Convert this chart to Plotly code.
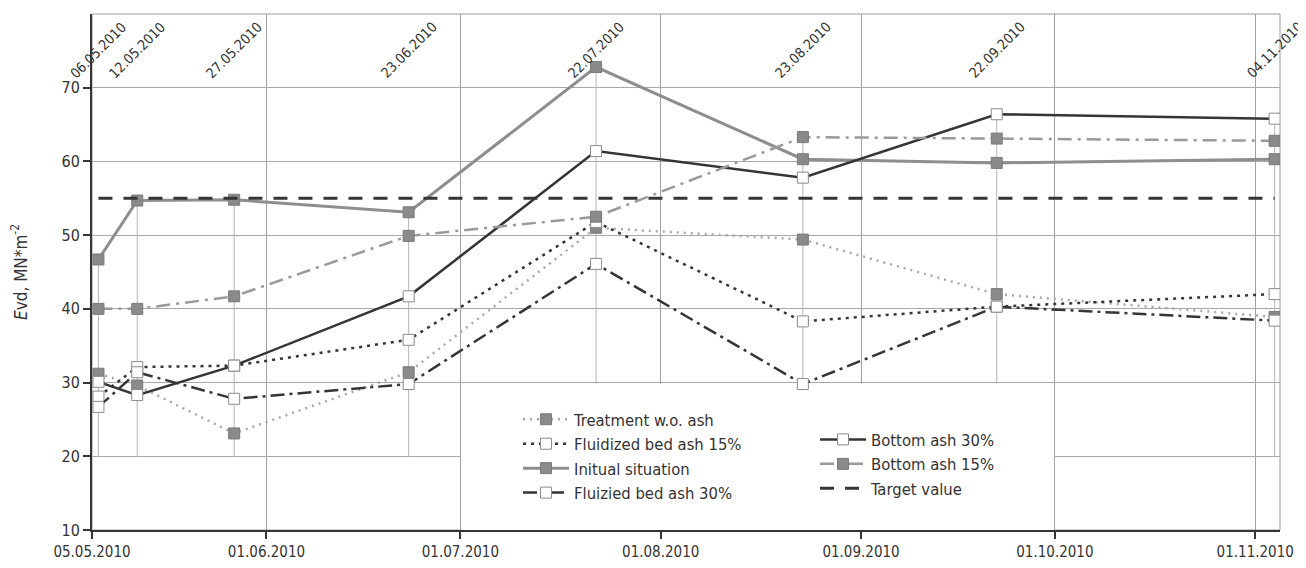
import plotly.graph_objects as go

dates = ["2010-05-06", "2010-05-12", "2010-05-27", "2010-06-23",
         "2010-07-22", "2010-08-23", "2010-09-22", "2010-11-04"]
date_labels = ["06.05.2010", "12.05.2010", "27.05.2010", "23.06.2010",
               "22.07.2010", "23.08.2010", "22.09.2010", "04.11.2010"]

treatment = [31.2, 29.6, 23.1, 31.4, 51.0, 49.4, 42.0, 38.9]
fluid15 = [28.1, 32.1, 32.3, 35.8, 51.8, 38.3, 40.3, 42.0]
initial = [46.7, 54.7, 54.8, 53.1, 72.8, 60.3, 59.8, 60.3]
fluid30 = [26.7, 31.4, 27.8, 29.8, 46.1, 29.8, 40.3, 38.4]
bottom30 = [30.1, 28.3, 32.3, 41.7, 61.4, 57.8, 66.4, 65.8]
bottom15 = [40.0, 40.0, 41.7, 49.9, 52.5, 63.3, 63.1, 62.8]
target_value = 55.0

x_tickvals = ["2010-05-05", "2010-06-01", "2010-07-01", "2010-08-01",
              "2010-09-01", "2010-10-01", "2010-11-01"]
x_ticktext = ["05.05.2010", "01.06.2010", "01.07.2010", "01.08.2010",
              "01.09.2010", "01.10.2010", "01.11.2010"]
y_tickvals = [10, 20, 30, 40, 50, 60, 70]

FONT = "DejaVu Sans Condensed, Liberation Sans Narrow, Arial Narrow, sans-serif"
DARK = "#353535"
GREY = "#9a9a9a"
MK_GREY = dict(symbol="square", size=11, color="#8a8a8a", line=dict(color="#7a7a7a", width=1))
MK_WHITE = dict(symbol="square", size=11, color="white", line=dict(color="#8a8a8a", width=1))

fig = go.Figure()

def add(name, y, color, width, dash, marker, legend):
    fig.add_trace(go.Scatter(
        x=dates, y=y, name=name, mode="lines+markers",
        line=dict(color=color, width=width, dash=dash),
        marker=marker, legend=legend))

add("Treatment w.o. ash", treatment, "#a8a8a8", 2.5, "2px,5px", MK_GREY, "legend")
add("Fluidized bed ash 15%", fluid15, DARK, 2.5, "3px,5px", MK_WHITE, "legend")
add("Initual situation", initial, "#8e8e8e", 3, "solid", MK_GREY, "legend")
add("Fluizied bed ash 30%", fluid30, DARK, 2.5, "14px,5px,3px,5px", MK_WHITE, "legend")
add("Bottom ash 30%", bottom30, DARK, 2.5, "solid", MK_WHITE, "legend2")
add("Bottom ash 15%", bottom15, GREY, 2.5, "14px,6px,3px,6px", MK_GREY, "legend2")
fig.add_trace(go.Scatter(
    x=[dates[0], dates[-1]], y=[target_value, target_value], name="Target value",
    mode="lines", line=dict(color=DARK, width=3, dash="14px,11px"), legend="legend2"))

shapes = []
all_series = [treatment, fluid15, initial, fluid30, bottom30, bottom15]
for i, d in enumerate(dates):
    top = max(s[i] for s in all_series)
    shapes.append(dict(type="line", xref="x", yref="y", x0=d, x1=d, y0=20, y1=top,
                       line=dict(color="#b5b5b5", width=1), layer="between"))
# legend background box (covers grid below 30 between 01.07 and 01.10)
shapes.append(dict(type="rect", xref="x", yref="y",
                   x0="2010-07-01 03:00", x1="2010-09-30 21:00", y0=10, y1=29.85,
                   fillcolor="white", line=dict(width=0), layer="between"))
# plot-area border (top/right)
shapes.append(dict(type="rect", xref="paper", yref="paper", x0=0, x1=1, y0=0, y1=1,
                   line=dict(color="#9a9a9a", width=1), layer="below"))

annotations = []
for d, lab in zip(dates, date_labels):
    annotations.append(dict(x=d, y=75.1, xref="x", yref="y", text=lab, showarrow=False,
                            textangle=-45, xanchor="center", yanchor="middle",
                            font=dict(family=FONT, size=14, color="#333")))

LEG_FONT = dict(family=FONT, size=16.5, color="#333")
# page body has an 8px margin, so the figure is sized/margined to land on the window
fig.update_layout(
    width=1298, height=560,
    margin=dict(l=84, r=26, t=6, b=38, autoexpand=False),
    paper_bgcolor="white", plot_bgcolor="white",
    font=dict(family=FONT, size=16, color="#333"),
    shapes=shapes, annotations=annotations,
    showlegend=True,
    legend=dict(x=0.3586, y=0.248, xanchor="left", yanchor="top",
                bgcolor="rgba(0,0,0,0)", borderwidth=0,
                font=LEG_FONT, tracegroupgap=0, itemwidth=46),
    legend2=dict(x=0.6086, y=0.209, xanchor="left", yanchor="top",
                 bgcolor="rgba(0,0,0,0)", borderwidth=0,
                 font=LEG_FONT, tracegroupgap=0, itemwidth=46),
)

fig.update_xaxes(
    type="date", range=["2010-05-05", "2010-11-04 20:00"],
    tickvals=x_tickvals, ticktext=x_ticktext, automargin=False,
    showgrid=True, gridcolor="#a0a0a0", gridwidth=1,
    showline=True, linecolor=DARK, linewidth=2,
    ticks="outside", ticklen=7, tickwidth=2, tickcolor=DARK,
    tickfont=dict(family=FONT, size=15, color="#333"),
    zeroline=False,
)
fig.update_yaxes(
    range=[10, 80], tickvals=y_tickvals, automargin=False,
    showgrid=True, gridcolor="#a8a8a8", gridwidth=1,
    showline=True, linecolor=DARK, linewidth=2,
    ticks="outside", ticklen=7, tickwidth=2, tickcolor=DARK,
    tickfont=dict(family=FONT, size=16, color="#333"),
    title=dict(text="<i>E</i>vd, MN*m<sup>-2</sup>", standoff=30,
               font=dict(family=FONT, size=17, color="#333")),
    zeroline=False,
)

fig.write_html("out.html")
